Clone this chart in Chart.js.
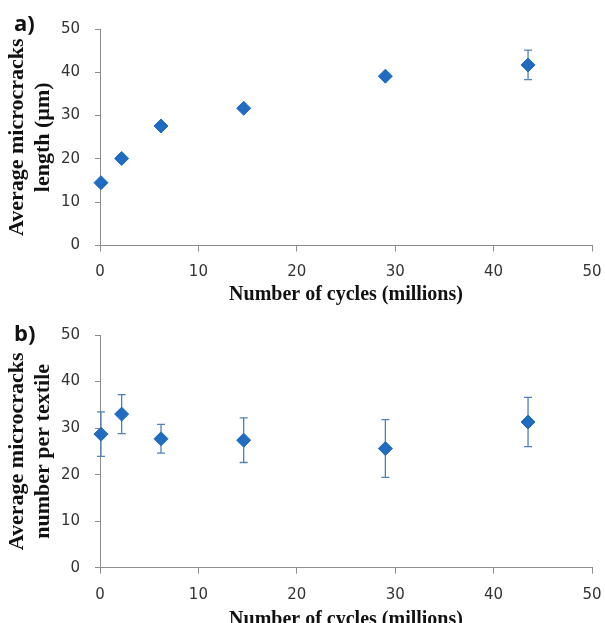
<!DOCTYPE html>
<html>
<head>
<meta charset="utf-8">
<script src="https://cdn.jsdelivr.net/npm/chart.js@4"></script>
<style>
  html, body { margin: 0; padding: 0; background: #fff; overflow: hidden; }
  body { width: 605px; height: 623px; position: relative; }
  .panel { position: absolute; left: 0; width: 605px; }
  .tag { position: absolute; left: 14px; font: bold 22px/22px "Open Sans", sans-serif; color: #111; }
</style>
</head>
<body>
<div class="panel" style="top:0;height:310px"><canvas id="chartA" width="605" height="310"></canvas></div>
<div class="panel" style="top:310px;height:330px"><canvas id="chartB" width="605" height="330"></canvas></div>
<div class="tag" style="top:11px">a)</div>
<div class="tag" style="top:321px">b)</div>
<script>
// cycles in millions
const cycles = [0.1, 2.2, 6.2, 14.6, 29.0, 43.5];

// a) average microcrack length (µm)
const lengthMean = [14.5, 20.1, 27.6, 31.7, 39.1, 41.7];
const lengthErr  = [0, 0, 0, 0, 0, 3.4];

// b) average microcrack number per textile
const numberMean = [28.7, 33.0, 27.7, 27.4, 25.6, 31.3];
const numberErr  = [4.8, 4.2, 3.1, 4.8, 6.2, 5.3];

const axisTicks = [0, 10, 20, 30, 40, 50];

const markerColor = '#1f6cc0';
const barColor = '#4f81bd';
const axisColor = '#8c8c8c';

// Excel-style vertical error bars with small caps, drawn under the markers
const errorBars = {
    id: 'errorBars',
    beforeDatasetsDraw(chart, args, opts) {
        const { ctx, scales: { x, y } } = chart;
        const errs = opts.values || [];
        ctx.save();
        ctx.strokeStyle = barColor;
        ctx.lineWidth = 1.3;
        chart.data.datasets[0].data.forEach((p, i) => {
            const e = errs[i];
            if (!e) return;
            const px = x.getPixelForValue(p.x);
            const top = y.getPixelForValue(p.y + e);
            const bot = y.getPixelForValue(p.y - e);
            ctx.beginPath();
            ctx.moveTo(px, top); ctx.lineTo(px, bot);
            ctx.moveTo(px - 4, top); ctx.lineTo(px + 4, top);
            ctx.moveTo(px - 4, bot); ctx.lineTo(px + 4, bot);
            ctx.stroke();
        });
        ctx.restore();
    },
};

function scatter(id, means, errs, yTitle, plotTop, xBoxHeight, xTitlePad) {
    return new Chart(document.getElementById(id), {
        type: 'scatter',
        data: {
            datasets: [{
                data: cycles.map((c, i) => ({ x: c, y: means[i] })),
                pointStyle: 'rectRot',
                pointRadius: 7,
                pointHoverRadius: 7,
                backgroundColor: markerColor,
                borderColor: markerColor,
                borderWidth: 1,
                clip: false,
            }],
        },
        plugins: [errorBars],
        options: {
            responsive: false,
            animation: false,
            layout: { padding: { left: 0, right: 0, top: plotTop, bottom: 0 } },
            plugins: {
                legend: { display: false },
                tooltip: { enabled: false },
                errorBars: { values: errs },
            },
            scales: {
                x: {
                    type: 'linear',
                    min: 0, max: 50,
                    afterBuildTicks: s => { s.ticks = axisTicks.map(v => ({ value: v })); },
                    afterFit: s => { s.height = xBoxHeight; s.paddingLeft = 0; s.paddingRight = 13; },
                    grid: { drawOnChartArea: false, tickLength: 6, color: axisColor },
                    border: { color: axisColor },
                    ticks: { padding: 12, color: '#333', font: { family: 'DejaVu Sans', size: 15 } },
                    title: {
                        display: true,
                        text: 'Number of cycles (millions)',
                        color: '#111',
                        font: { family: 'Liberation Serif', size: 20, weight: 'bold' },
                        padding: { top: 0, bottom: xTitlePad },
                    },
                },
                y: {
                    min: 0, max: 50,
                    afterBuildTicks: s => { s.ticks = axisTicks.map(v => ({ value: v })); },
                    afterFit: s => { s.width = 100; },
                    grid: { drawOnChartArea: false, tickLength: 5, color: axisColor },
                    border: { color: axisColor },
                    ticks: { padding: 15, color: '#333', font: { family: 'DejaVu Sans', size: 15 } },
                    title: {
                        display: true,
                        text: yTitle,
                        color: '#111',
                        font: { family: 'Liberation Serif', size: 22, weight: 'bold', lineHeight: 1.2 },
                        padding: { top: 4, bottom: 0 },
                    },
                },
            },
        },
    });
}

scatter('chartA', lengthMean, lengthErr, ['Average microcracks', 'length (µm)'], 29, 64.5, 3);
scatter('chartB', numberMean, numberErr, ['Average microcracks', 'number per textile'], 25, 72.3, 8.5);
</script>
</body>
</html>
